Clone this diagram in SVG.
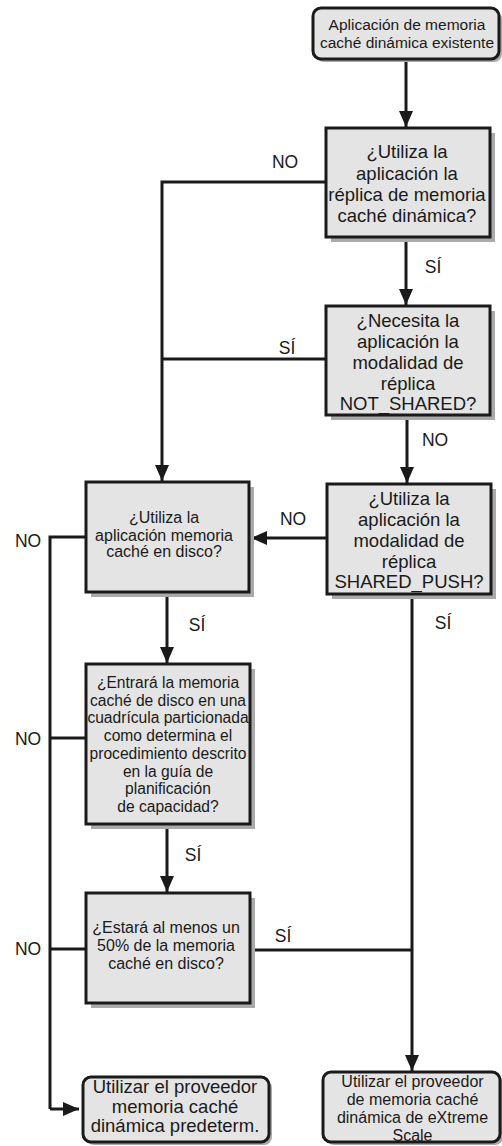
<svg xmlns="http://www.w3.org/2000/svg" width="502" height="1146" viewBox="0 0 502 1146">
<defs>
<marker id="arr" markerUnits="userSpaceOnUse" markerWidth="16" markerHeight="14" refX="16" refY="7" orient="auto">
<path d="M0,0 L16,7 L0,14 z" fill="#1a1a1a"/>
</marker>
<style>
.box{fill:#e4e4e4;stroke:#1a1a1a;stroke-width:3}
.sh{fill:#aaaaaa}
.t{font-family:"Liberation Sans",Arial,sans-serif;fill:#1a1a1a;text-anchor:middle}
.lbl{font-family:"Liberation Sans",Arial,sans-serif;fill:#1a1a1a;font-size:17.5px;text-anchor:middle}
.c{fill:none;stroke:#1a1a1a;stroke-width:3}
.ca{fill:none;stroke:#1a1a1a;stroke-width:3;marker-end:url(#arr)}
</style>
</defs>
<rect width="502" height="1146" fill="#ffffff"/>

<g id="connectors">
<path class="ca" d="M406,59 V127"/>
<path class="ca" d="M406,237 V305"/>
<path class="ca" d="M407,415 V483"/>
<path class="c" d="M326,182 H162 V359"/>
<path class="c" d="M326,359 H162"/>
<path class="ca" d="M162,359 V481"/>
<path class="ca" d="M327,538 H251"/>
<path class="ca" d="M167,592 V663"/>
<path class="ca" d="M167,824 V892"/>
<path class="c" d="M86,537 H50 V1109"/>
<path class="ca" d="M50,1109 H79"/>
<path class="c" d="M86,738 H50"/>
<path class="c" d="M86,949 H50"/>
<path class="ca" d="M412,594 V1071"/>
<path class="c" d="M250,950 H412"/>
<text class="lbl" x="285" y="168">NO</text>
<text class="lbl" x="433" y="273">SÍ</text>
<text class="lbl" x="287" y="354">SÍ</text>
<text class="lbl" x="435" y="446">NO</text>
<text class="lbl" x="293" y="525">NO</text>
<text class="lbl" x="28" y="547">NO</text>
<text class="lbl" x="197" y="631">SÍ</text>
<text class="lbl" x="443" y="629">SÍ</text>
<text class="lbl" x="28" y="745">NO</text>
<text class="lbl" x="193" y="861">SÍ</text>
<text class="lbl" x="28" y="955">NO</text>
<text class="lbl" x="283" y="942">SÍ</text>
</g>

<g id="start">
<rect class="sh" x="316" y="11" width="186" height="51" rx="8"/>
<rect class="box" x="313" y="8" width="186" height="51" rx="8"/>
<text class="t" font-size="15.5" x="407" y="30">Aplicación de memoria</text>
<text class="t" font-size="15.5" x="407" y="48">caché dinámica existente</text>
</g>

<g id="q1">
<rect class="sh" x="331" y="133" width="164" height="109"/>
<rect class="box" x="326" y="128" width="164" height="109"/>
<text class="t" font-size="18.5" x="407" y="158">¿Utiliza la</text>
<text class="t" font-size="18.5" x="407" y="179.5">aplicación la</text>
<text class="t" font-size="18.5" x="407" y="200.5">réplica de memoria</text>
<text class="t" font-size="18.5" x="407" y="221.5">caché dinámica?</text>
</g>

<g id="q2">
<rect class="sh" x="331" y="311" width="164" height="109"/>
<rect class="box" x="326" y="306" width="164" height="109"/>
<text class="t" font-size="18.5" x="408" y="327">¿Necesita la</text>
<text class="t" font-size="18.5" x="408" y="348">aplicación la</text>
<text class="t" font-size="18.5" x="408" y="368.5">modalidad de</text>
<text class="t" font-size="18.5" x="408" y="389.5">réplica</text>
<text class="t" font-size="18.5" x="408" y="410">NOT_SHARED?</text>
</g>

<g id="q4">
<rect class="sh" x="332" y="489" width="164" height="110"/>
<rect class="box" x="327" y="484" width="164" height="110"/>
<text class="t" font-size="18.5" x="409" y="505">¿Utiliza la</text>
<text class="t" font-size="18.5" x="409" y="526">aplicación la</text>
<text class="t" font-size="18.5" x="409" y="546.5">modalidad de</text>
<text class="t" font-size="18.5" x="409" y="567.5">réplica</text>
<text class="t" font-size="18.5" x="409" y="588">SHARED_PUSH?</text>
</g>

<g id="q3">
<rect class="sh" x="91" y="487" width="163" height="110"/>
<rect class="box" x="86" y="482" width="163" height="110"/>
<text class="t" font-size="16" x="164" y="523">¿Utiliza la</text>
<text class="t" font-size="16" x="164" y="540.5">aplicación memoria</text>
<text class="t" font-size="16" x="164" y="557">caché en disco?</text>
</g>

<g id="q5">
<rect class="sh" x="91" y="669" width="164" height="160"/>
<rect class="box" x="86" y="664" width="164" height="160"/>
<text class="t" font-size="15.6" x="168" y="688">¿Entrará la memoria</text>
<text class="t" font-size="15.6" x="168" y="705.7">caché de disco en una</text>
<text class="t" font-size="15.6" x="168" y="723.4">cuadrícula particionada</text>
<text class="t" font-size="15.6" x="168" y="741.1">como determina el</text>
<text class="t" font-size="15.6" x="168" y="758.8">procedimiento descrito</text>
<text class="t" font-size="15.6" x="168" y="776.5">en la guía de</text>
<text class="t" font-size="15.6" x="168" y="794.2">planificación</text>
<text class="t" font-size="15.6" x="168" y="812">de capacidad?</text>
</g>

<g id="q6">
<rect class="sh" x="91" y="898" width="164" height="110"/>
<rect class="box" x="86" y="893" width="164" height="110"/>
<text class="t" font-size="16" x="166" y="933">¿Estará al menos un</text>
<text class="t" font-size="16" x="166" y="951">50% de la memoria</text>
<text class="t" font-size="16" x="166" y="969">caché en disco?</text>
</g>

<g id="end-default">
<rect class="sh" x="86" y="1080" width="186" height="65" rx="8"/>
<rect class="box" x="83" y="1077" width="186" height="65" rx="8"/>
<text class="t" font-size="18.5" x="175" y="1093">Utilizar el proveedor</text>
<text class="t" font-size="18.5" x="175" y="1113">memoria caché</text>
<text class="t" font-size="18.5" x="175" y="1132">dinámica predeterm.</text>
</g>

<g id="end-extreme">
<rect class="sh" x="326" y="1075" width="177" height="70" rx="8"/>
<rect class="box" x="323" y="1072" width="177" height="70" rx="8"/>
<text class="t" font-size="16" x="412.5" y="1087">Utilizar el proveedor</text>
<text class="t" font-size="16" x="412.5" y="1105">de memoria caché</text>
<text class="t" font-size="16" x="412.5" y="1123">dinámica de eXtreme</text>
<text class="t" font-size="16" x="412.5" y="1141">Scale</text>
</g>
</svg>
